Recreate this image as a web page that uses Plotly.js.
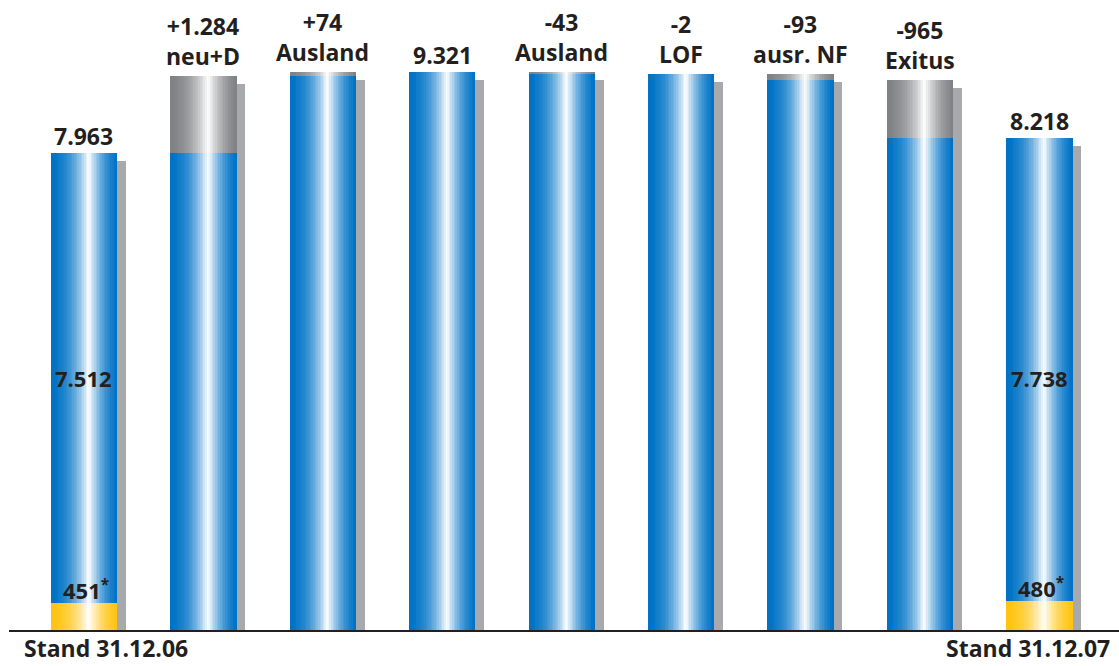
<!DOCTYPE html>
<html>
<head>
<meta charset="utf-8">
<script src="https://cdn.plot.ly/plotly-3.0.1.min.js"></script>
<style>html,body{margin:0;padding:0;background:#fff;}#chart{width:1119px;height:666px;}</style>
</head>
<body>
<div id="chart"></div>
<script>
// ---- data ----
const categories = ['Stand 31.12.06','neu+D','Ausland (+)','Summe','Ausland (-)','LOF','ausr. NF','Exitus','Stand 31.12.07'];
const topLabels = ['7.963','+1.284<br>neu+D','+74<br>Ausland','9.321','-43<br>Ausland','-2<br>LOF','-93<br>ausr. NF','-965<br>Exitus','8.218'];
const changes = [7963, 1284, 74, null, -43, -2, -93, -965, null];
const measures = ['absolute','relative','relative','total','relative','relative','relative','relative','total'];
const yellowValues = [451, 0, 0, 0, 0, 0, 0, 0, 480];
const yellowLabels = ['451', '', '', '', '', '', '', '', '480'];
const innerLabels = ['7.512', '', '', '', '', '', '', '', '7.738'];
const bottomLabels = ['Stand 31.12.06', 'Stand 31.12.07'];

// ---- derived levels ----
const xs = categories.map((c, i) => i);
let level = 0;
const blueTop = [], grayLo = [], grayHi = [];
for (let i = 0; i < categories.length; i++) {
  if (measures[i] === 'absolute') { level = changes[i]; blueTop.push(level); grayLo.push(level); grayHi.push(level); }
  else if (measures[i] === 'relative') {
    const prev = level; level = prev + changes[i];
    blueTop.push(Math.min(prev, level)); grayLo.push(Math.min(prev, level)); grayHi.push(Math.max(prev, level));
  } else { blueTop.push(level); grayLo.push(level); grayHi.push(level); }
}
// inner labels share one row (the first segment's midpoint)
const innerMids = innerLabels.map((t, i) => t ? yellowValues[i] + (blueTop[i] - yellowValues[i]) / 2 : null).filter(v => v !== null);
const innerY = Math.min.apply(null, innerMids);

// ---- styling ----
const W = 0.553;          // bar width (category units)
const SHADOW_DX = 0.0754; // shadow shift right
const SHADOW_DY = 134;    // shadow shift down (value units)
const N = 40;             // gradient slices
const PEAK = 0.57;
const BLUE = [0, 115, 198], GRAY = [128, 130, 133], YELLOW = [255, 196, 18];
const TXT = '#231f20';
const FONT = 'Open Sans, Liberation Sans, sans-serif';

function mixAt(t) {
  return t < PEAK ? Math.pow(t / PEAK, 2.2) : Math.pow((1 - t) / (1 - PEAK), 1.7);
}
function shade(base, t) {
  const m = Math.min(1, mixAt(t) * 0.97 + 0.03 * (t > 0.1 && t < 0.95 ? 1 : 0));
  const c = base.map(v => Math.round(v + (255 - v) * m));
  return 'rgb(' + c.join(',') + ')';
}

const traces = [];
// shadow
traces.push({
  type: 'bar', x: xs, base: xs.map(() => 0),
  y: grayHi.map(v => v - SHADOW_DY),
  width: W, offset: -W / 2 + SHADOW_DX,
  marker: { color: '#a7a9ac', line: { width: 0 } },
  hoverinfo: 'skip', showlegend: false
});

// gradient slices
for (let k = 0; k < N; k++) {
  const t = (k + 0.5) / N;
  const sx = [], sb = [], sy = [], sc = [];
  for (let i = 0; i < categories.length; i++) {
    sx.push(i); sb.push(0); sy.push(yellowValues[i]); sc.push(shade(YELLOW, t));
    sx.push(i); sb.push(yellowValues[i]); sy.push(blueTop[i] - yellowValues[i]); sc.push(shade(BLUE, t));
    sx.push(i); sb.push(grayLo[i]); sy.push(grayHi[i] - grayLo[i]); sc.push(shade(GRAY, t));
  }
  traces.push({
    type: 'bar', x: sx, base: sb, y: sy,
    width: W / N * 1.15, offset: -W / 2 + k * W / N,
    marker: { color: sc, line: { width: 0 } },
    hoverinfo: 'skip', showlegend: false
  });
}

const annotations = [];
for (let i = 0; i < categories.length; i++) {
  annotations.push({
    x: i, y: grayHi[i], xref: 'x', yref: 'y', text: topLabels[i], showarrow: false,
    yanchor: 'bottom', xanchor: 'center', yshift: topLabels[i].indexOf('<br>') >= 0 ? 2 : -1,
    font: { family: FONT, size: 23, color: TXT, weight: 'bold' }
  });
  if (innerLabels[i]) {
    annotations.push({
      x: i, y: innerY, xref: 'x', yref: 'y',
      text: innerLabels[i], showarrow: false, yanchor: 'middle',
      font: { family: FONT, size: 22, color: TXT, weight: 'bold' }
    });
  }
  if (yellowLabels[i]) {
    annotations.push({
      x: i, y: yellowValues[i], xref: 'x', yref: 'y',
      text: yellowLabels[i] + '<sup>*</sup>', showarrow: false, yanchor: 'bottom', yshift: -4, xshift: 2,
      font: { family: FONT, size: 22, color: TXT, weight: 'bold' }
    });
  }
}
annotations.push({
  x: (23 - 9) / 1110, y: 0, xref: 'paper', yref: 'paper', text: bottomLabels[0], showarrow: false,
  xanchor: 'left', yanchor: 'bottom', yshift: -35, borderpad: 0,
  font: { family: FONT, size: 23, color: TXT, weight: 'bold' }
});
annotations.push({
  x: (1111 - 9) / 1110, y: 0, xref: 'paper', yref: 'paper', text: bottomLabels[1], showarrow: false,
  xanchor: 'right', yanchor: 'bottom', yshift: -35, borderpad: 0,
  font: { family: FONT, size: 23, color: TXT, weight: 'bold' }
});

const layout = {
  width: 1119, height: 666,
  margin: { l: 9, r: 0, t: 0, b: 36, pad: 0 },
  paper_bgcolor: '#ffffff', plot_bgcolor: '#ffffff',
  barmode: 'overlay', bargap: 0,
  showlegend: false, hovermode: false,
  xaxis: { range: [-0.628, 8.668], showgrid: false, zeroline: false, showticklabels: false, ticks: '',
           showline: true, linecolor: TXT, linewidth: 2, fixedrange: true },
  yaxis: { range: [0, 10518], showgrid: false, zeroline: false, showticklabels: false, ticks: '',
           showline: false, fixedrange: true },
  annotations: annotations
};

Plotly.newPlot('chart', traces, layout, { displayModeBar: false, staticPlot: true });
</script>
</body>
</html>
